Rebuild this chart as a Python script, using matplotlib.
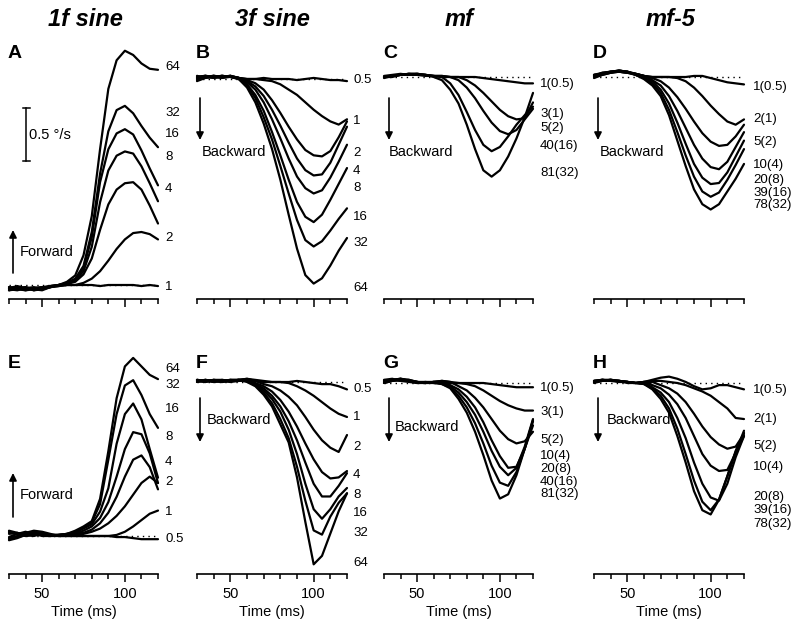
import matplotlib.pyplot as plt

plt.rcParams['font.family'] = ['Liberation Sans', 'DejaVu Sans']

# sample times (ms)
TIME = [30, 35, 40, 45, 50, 55, 60, 65, 70, 75, 80, 85, 90, 95, 100, 105, 110, 115, 120]

# ---- A : 1f sine (top) , velocity in deg/s
a_1 = [-0.03, -0.02, -0.04, -0.03, -0.02, -0.02, -0.01, 0.00, 0.00, 0.00, 0.00, -0.01, 0.00, 0.00, 0.00, 0.00, -0.01, 0.00, -0.01]
a_2 = [-0.05, -0.03, -0.02, -0.05, -0.04, -0.02, -0.01, 0.00, 0.00, 0.02, 0.06, 0.13, 0.23, 0.34, 0.43, 0.49, 0.50, 0.48, 0.43]
a_4 = [-0.02, -0.04, -0.05, -0.03, -0.02, -0.01, 0.00, 0.01, 0.03, 0.10, 0.25, 0.52, 0.76, 0.90, 0.96, 0.97, 0.90, 0.75, 0.58]
a_8 = [-0.04, -0.05, -0.03, -0.02, -0.04, -0.02, 0.00, 0.01, 0.04, 0.13, 0.36, 0.78, 1.08, 1.22, 1.26, 1.24, 1.12, 0.96, 0.79]
a_16 = [-0.03, -0.01, -0.03, -0.05, -0.03, -0.01, 0.00, 0.01, 0.05, 0.16, 0.45, 0.97, 1.28, 1.43, 1.47, 1.42, 1.27, 1.10, 0.94]
a_32 = [-0.05, -0.04, -0.02, -0.04, -0.05, -0.02, 0.00, 0.02, 0.06, 0.18, 0.50, 1.05, 1.45, 1.65, 1.69, 1.62, 1.50, 1.39, 1.30]
a_64 = [-0.02, -0.03, -0.05, -0.04, -0.03, -0.01, 0.00, 0.03, 0.09, 0.28, 0.65, 1.28, 1.85, 2.12, 2.21, 2.17, 2.09, 2.04, 2.03]
A_LABELS = ['1', '2', '4', '8', '16', '32', '64']
A_TRACES = [a_1, a_2, a_4, a_8, a_16, a_32, a_64]
A_TEXT_Y = [-0.02, 0.44, 0.91, 1.21, 1.42, 1.62, 2.06]

# ---- B : 3f sine (top)
b_05 = [0.01, 0.03, 0.02, 0.01, 0.02, 0.01, 0.00, 0.00, 0.01, 0.00, 0.00, 0.00, -0.01, 0.00, 0.01, 0.00, -0.01, -0.01, -0.02]
b_1 = [-0.02, 0.01, 0.03, 0.02, 0.03, 0.01, 0.00, 0.00, -0.01, -0.02, -0.05, -0.10, -0.15, -0.22, -0.29, -0.35, -0.40, -0.43, -0.38]
b_2 = [0.02, 0.03, 0.01, 0.03, 0.02, 0.01, -0.01, -0.04, -0.10, -0.20, -0.32, -0.45, -0.57, -0.67, -0.72, -0.73, -0.68, -0.55, -0.40]
b_4 = [-0.01, 0.02, 0.03, 0.02, 0.03, 0.01, -0.02, -0.07, -0.16, -0.29, -0.44, -0.60, -0.75, -0.86, -0.91, -0.90, -0.79, -0.62, -0.45]
b_8 = [0.03, 0.01, 0.02, 0.03, 0.02, 0.01, -0.03, -0.10, -0.22, -0.38, -0.56, -0.75, -0.92, -1.03, -1.08, -1.05, -0.93, -0.78, -0.62]
b_16 = [0.00, 0.02, 0.03, 0.01, 0.03, 0.01, -0.05, -0.15, -0.30, -0.50, -0.72, -0.95, -1.16, -1.30, -1.35, -1.28, -1.14, -0.99, -0.84]
b_32 = [0.02, 0.03, 0.02, 0.03, 0.02, 0.00, -0.06, -0.18, -0.36, -0.57, -0.82, -1.08, -1.33, -1.52, -1.58, -1.53, -1.43, -1.32, -1.22]
b_64 = [0.01, 0.02, 0.01, 0.02, 0.02, 0.00, -0.08, -0.22, -0.42, -0.66, -0.95, -1.28, -1.60, -1.85, -1.93, -1.88, -1.76, -1.62, -1.50]
B_LABELS = ['0.5', '1', '2', '4', '8', '16', '32', '64']
B_TRACES = [b_05, b_1, b_2, b_4, b_8, b_16, b_32, b_64]
B_TEXT_Y = [-0.01, -0.40, -0.70, -0.87, -1.03, -1.30, -1.55, -1.97]

# ---- C : mf (top)
c_1 = [0.00, 0.01, 0.02, 0.03, 0.03, 0.02, 0.01, 0.01, 0.00, 0.00, 0.00, 0.00, -0.01, -0.02, -0.03, -0.04, -0.05, -0.06, -0.06]
c_3 = [-0.01, 0.01, 0.02, 0.03, 0.02, 0.02, 0.01, 0.01, 0.00, 0.00, -0.03, -0.08, -0.15, -0.23, -0.31, -0.37, -0.40, -0.39, -0.24]
c_5 = [0.00, 0.00, 0.02, 0.02, 0.03, 0.02, 0.01, 0.00, 0.00, -0.03, -0.10, -0.20, -0.32, -0.43, -0.51, -0.54, -0.50, -0.40, -0.30]
c_40 = [0.01, 0.02, 0.03, 0.02, 0.02, 0.01, 0.01, 0.00, -0.06, -0.17, -0.33, -0.50, -0.64, -0.70, -0.66, -0.56, -0.45, -0.36, -0.28]
c_81 = [0.00, 0.01, 0.02, 0.03, 0.03, 0.02, 0.00, -0.03, -0.12, -0.25, -0.45, -0.68, -0.88, -0.94, -0.88, -0.75, -0.58, -0.38, -0.15]
C_LABELS = ['1(0.5)', '3(1)', '5(2)', '40(16)', '81(32)']
C_TRACES = [c_1, c_3, c_5, c_40, c_81]
C_TEXT_Y = [-0.07, -0.35, -0.48, -0.65, -0.91]

# ---- D : mf-5 (top)
d_1 = [0.02, 0.04, 0.05, 0.06, 0.05, 0.03, 0.01, 0.00, 0.00, 0.00, 0.00, 0.00, 0.01, 0.01, -0.01, -0.03, -0.05, -0.06, -0.07]
d_2 = [-0.01, 0.02, 0.04, 0.05, 0.04, 0.03, 0.01, 0.00, 0.00, 0.00, -0.01, -0.04, -0.10, -0.18, -0.27, -0.35, -0.42, -0.45, -0.40]
d_5 = [0.01, 0.03, 0.05, 0.06, 0.05, 0.03, 0.01, -0.01, -0.04, -0.10, -0.19, -0.30, -0.42, -0.53, -0.61, -0.65, -0.64, -0.56, -0.45]
d_10 = [0.00, 0.02, 0.04, 0.05, 0.04, 0.03, 0.01, -0.03, -0.08, -0.18, -0.32, -0.48, -0.64, -0.77, -0.85, -0.87, -0.80, -0.66, -0.52]
d_20 = [0.02, 0.03, 0.05, 0.06, 0.05, 0.02, -0.01, -0.04, -0.12, -0.25, -0.43, -0.63, -0.82, -0.95, -1.01, -1.00, -0.90, -0.75, -0.60]
d_39 = [0.01, 0.04, 0.05, 0.05, 0.04, 0.02, -0.01, -0.06, -0.15, -0.31, -0.52, -0.74, -0.94, -1.08, -1.13, -1.09, -0.97, -0.83, -0.68]
d_78 = [0.02, 0.03, 0.04, 0.06, 0.05, 0.02, -0.02, -0.08, -0.18, -0.36, -0.60, -0.84, -1.06, -1.20, -1.25, -1.20, -1.08, -0.96, -0.82]
D_LABELS = ['1(0.5)', '2(1)', '5(2)', '10(4)', '20(8)', '39(16)', '78(32)']
D_TRACES = [d_1, d_2, d_5, d_10, d_20, d_39, d_78]
D_TEXT_Y = [-0.09, -0.40, -0.61, -0.83, -0.97, -1.09, -1.21]

# ---- E : 1f sine (bottom)
e_05 = [0.03, 0.02, 0.01, 0.03, 0.02, 0.00, 0.00, 0.00, 0.00, 0.00, 0.00, 0.00, 0.00, -0.01, -0.01, -0.02, -0.03, -0.03, -0.03]
e_1 = [-0.02, 0.00, 0.03, 0.05, 0.04, 0.02, 0.00, 0.00, 0.00, 0.00, 0.00, 0.00, 0.00, 0.01, 0.04, 0.09, 0.15, 0.21, 0.24]
e_2 = [0.04, 0.02, 0.00, 0.02, 0.03, 0.01, 0.00, 0.01, 0.01, 0.02, 0.04, 0.07, 0.12, 0.19, 0.28, 0.39, 0.50, 0.56, 0.50]
e_4 = [-0.03, -0.01, 0.02, 0.04, 0.02, 0.01, 0.01, 0.01, 0.02, 0.03, 0.06, 0.12, 0.22, 0.37, 0.56, 0.72, 0.76, 0.65, 0.44]
e_8 = [0.02, 0.03, 0.01, 0.00, 0.02, 0.01, 0.01, 0.01, 0.02, 0.05, 0.09, 0.17, 0.32, 0.56, 0.82, 0.98, 0.96, 0.78, 0.50]
e_16 = [-0.04, -0.02, 0.01, 0.03, 0.01, 0.00, 0.01, 0.02, 0.03, 0.07, 0.11, 0.23, 0.45, 0.87, 1.15, 1.25, 1.10, 0.82, 0.55]
e_32 = [0.05, 0.03, 0.00, 0.01, 0.02, 0.01, 0.01, 0.02, 0.04, 0.08, 0.13, 0.30, 0.72, 1.15, 1.42, 1.47, 1.33, 1.15, 1.02]
e_64 = [-0.01, 0.02, 0.04, 0.02, 0.00, 0.00, 0.01, 0.02, 0.05, 0.09, 0.14, 0.35, 0.80, 1.30, 1.60, 1.68, 1.60, 1.52, 1.48]
E_LABELS = ['0.5', '1', '2', '4', '8', '16', '32', '64']
E_TRACES = [e_05, e_1, e_2, e_4, e_8, e_16, e_32, e_64]
E_TEXT_Y = [-0.03, 0.23, 0.51, 0.70, 0.93, 1.20, 1.42, 1.58]

# ---- F : 3f sine (bottom)
f_05 = [0.02, 0.01, 0.02, 0.01, 0.00, 0.01, 0.02, 0.01, 0.00, 0.00, 0.00, 0.00, 0.01, 0.00, -0.01, -0.02, -0.02, -0.04, -0.07]
f_1 = [0.00, 0.02, 0.01, 0.00, 0.01, 0.02, 0.03, 0.02, 0.01, 0.00, 0.00, -0.01, -0.04, -0.08, -0.13, -0.19, -0.25, -0.30, -0.33]
f_2 = [0.01, 0.00, 0.02, 0.01, 0.02, 0.02, 0.03, 0.01, -0.02, -0.04, -0.08, -0.14, -0.22, -0.33, -0.45, -0.55, -0.62, -0.66, -0.50]
f_4 = [0.02, 0.01, 0.00, 0.02, 0.01, 0.02, 0.02, -0.01, -0.04, -0.09, -0.17, -0.28, -0.42, -0.58, -0.73, -0.85, -0.91, -0.90, -0.84]
f_8 = [0.00, 0.02, 0.01, 0.01, 0.02, 0.01, 0.02, -0.02, -0.06, -0.13, -0.23, -0.37, -0.55, -0.76, -0.96, -1.08, -1.08, -0.98, -0.86]
f_16 = [0.01, 0.00, 0.02, 0.02, 0.01, 0.02, 0.01, -0.02, -0.08, -0.16, -0.28, -0.45, -0.68, -0.96, -1.20, -1.29, -1.20, -1.08, -1.00]
f_32 = [0.02, 0.01, 0.01, 0.00, 0.02, 0.02, 0.01, -0.03, -0.10, -0.20, -0.35, -0.53, -0.80, -1.12, -1.40, -1.44, -1.27, -1.14, -1.05]
f_64 = [0.01, 0.02, 0.00, 0.01, 0.01, 0.02, 0.00, -0.04, -0.12, -0.23, -0.40, -0.57, -0.90, -1.32, -1.72, -1.64, -1.43, -1.22, -1.05]
F_LABELS = ['0.5', '1', '2', '4', '8', '16', '32', '64']
F_TRACES = [f_05, f_1, f_2, f_4, f_8, f_16, f_32, f_64]
F_TEXT_Y = [-0.07, -0.33, -0.61, -0.88, -1.07, -1.24, -1.42, -1.71]

# ---- G : mf (bottom)
g_1 = [0.02, 0.03, 0.04, 0.02, 0.01, 0.01, 0.00, 0.00, 0.00, 0.00, 0.00, 0.00, 0.00, -0.01, -0.02, -0.03, -0.04, -0.04, -0.04]
g_3 = [0.00, 0.02, 0.03, 0.03, 0.01, 0.00, 0.01, 0.02, 0.01, 0.00, -0.01, -0.03, -0.07, -0.12, -0.17, -0.21, -0.24, -0.26, -0.26]
g_5 = [0.03, 0.04, 0.02, 0.01, 0.00, 0.01, 0.01, 0.02, 0.01, -0.03, -0.07, -0.14, -0.23, -0.34, -0.45, -0.53, -0.57, -0.55, -0.46]
g_10 = [0.01, 0.02, 0.04, 0.03, 0.01, 0.00, 0.01, 0.01, -0.02, -0.06, -0.13, -0.23, -0.37, -0.54, -0.69, -0.80, -0.79, -0.62, -0.40]
g_20 = [0.02, 0.03, 0.02, 0.02, 0.01, 0.00, 0.01, 0.01, -0.03, -0.09, -0.18, -0.30, -0.46, -0.64, -0.79, -0.87, -0.80, -0.60, -0.34]
g_40 = [0.00, 0.02, 0.03, 0.02, 0.01, 0.00, 0.01, -0.01, -0.04, -0.12, -0.23, -0.38, -0.57, -0.78, -0.94, -0.97, -0.84, -0.62, -0.36]
g_81 = [0.01, 0.03, 0.04, 0.02, 0.00, 0.00, 0.00, -0.01, -0.05, -0.15, -0.28, -0.46, -0.68, -0.92, -1.09, -1.05, -0.87, -0.62, -0.35]
G_LABELS = ['1(0.5)', '3(1)', '5(2)', '10(4)', '20(8)', '40(16)', '81(32)']
G_TRACES = [g_1, g_3, g_5, g_10, g_20, g_40, g_81]
G_TEXT_Y = [-0.05, -0.27, -0.54, -0.69, -0.81, -0.93, -1.05]

# ---- H : mf-5 (bottom)
h_1 = [0.01, 0.02, 0.03, 0.02, 0.01, 0.00, 0.01, 0.03, 0.05, 0.06, 0.04, 0.01, -0.03, -0.06, -0.05, -0.02, -0.02, -0.04, -0.06]
h_2 = [0.02, 0.03, 0.02, 0.01, 0.01, 0.00, 0.01, 0.02, 0.02, 0.01, 0.00, -0.02, -0.05, -0.08, -0.12, -0.18, -0.24, -0.33, -0.34]
h_5 = [0.00, 0.02, 0.03, 0.02, 0.01, 0.00, 0.01, 0.01, -0.02, -0.05, -0.10, -0.18, -0.29, -0.41, -0.51, -0.58, -0.62, -0.60, -0.48]
h_10 = [0.02, 0.03, 0.02, 0.02, 0.01, 0.00, 0.01, -0.02, -0.05, -0.11, -0.20, -0.33, -0.50, -0.67, -0.78, -0.83, -0.82, -0.66, -0.50]
h_20 = [0.01, 0.02, 0.03, 0.01, 0.01, 0.00, 0.00, -0.04, -0.09, -0.18, -0.33, -0.52, -0.75, -0.95, -1.08, -1.11, -0.95, -0.70, -0.50]
h_39 = [0.02, 0.03, 0.03, 0.02, 0.00, 0.00, -0.01, -0.05, -0.12, -0.24, -0.43, -0.67, -0.92, -1.12, -1.20, -1.10, -0.88, -0.64, -0.47]
h_78 = [0.01, 0.03, 0.02, 0.02, 0.01, 0.00, -0.01, -0.06, -0.15, -0.28, -0.50, -0.75, -1.02, -1.20, -1.24, -1.10, -0.88, -0.65, -0.45]
H_LABELS = ['1(0.5)', '2(1)', '5(2)', '10(4)', '20(8)', '39(16)', '78(32)']
H_TRACES = [h_1, h_2, h_5, h_10, h_20, h_39, h_78]
H_TEXT_Y = [-0.07, -0.34, -0.59, -0.79, -1.08, -1.20, -1.33]

TITLES = ['1f sine', '3f sine', 'mf', 'mf-5']

W, H = 800, 625
PX = 106.0  # pixels per deg/s (0.5 deg/s bar = 53 px)

fig = plt.figure(figsize=(8, 6.25), dpi=100)


def fp(x, y):
    return (x / W, 1 - y / H)


# letter, x0, x1, axis y, zero-line y, labels, traces, label y, label offset, bottom row
panels = [
    ('A', 9, 158, 299, 285, A_LABELS, A_TRACES, A_TEXT_Y, 7, False),
    ('B', 197, 347, 299, 79, B_LABELS, B_TRACES, B_TEXT_Y, 6, False),
    ('C', 384, 533, 299, 77, C_LABELS, C_TRACES, C_TEXT_Y, 7, False),
    ('D', 594, 744, 299, 77, D_LABELS, D_TRACES, D_TEXT_Y, 9, False),
    ('E', 9, 158, 574, 536, E_LABELS, E_TRACES, E_TEXT_Y, 7, True),
    ('F', 197, 347, 574, 382, F_LABELS, F_TRACES, F_TEXT_Y, 6, True),
    ('G', 384, 533, 574, 383, G_LABELS, G_TRACES, G_TEXT_Y, 7, True),
    ('H', 594, 744, 574, 383, H_LABELS, H_TRACES, H_TEXT_Y, 9, True),
]

for letter, x0, x1, ay, by, labels, traces, text_y, off, bottom in panels:
    top = ay - 260
    ax = fig.add_axes([x0 / W, 1 - ay / H, (x1 - x0) / W, (ay - top) / H])
    ax.set_xlim(30, 120)
    ax.set_ylim(-(ay - by) / PX, (by - top) / PX)
    ax.patch.set_alpha(0)
    for s in ['top', 'right', 'left']:
        ax.spines[s].set_visible(False)
    ax.spines['bottom'].set_linewidth(1.2)
    ax.yaxis.set_visible(False)
    ax.set_xticks([50, 100])
    ax.set_xticks(range(30, 121, 10), minor=True)
    ax.tick_params(axis='x', which='major', length=6, width=1.1, direction='out')
    ax.tick_params(axis='x', which='minor', length=3.5, width=1.1, direction='out')
    if bottom:
        ax.set_xticklabels(['50', '100'], fontsize=10.5)
        ax.set_xlabel('Time (ms)', fontsize=10.5, labelpad=3)
    else:
        ax.tick_params(axis='x', labelbottom=False)

    ax.plot([30, 120], [0, 0], ls=(0, (1, 3)), lw=1.0, color='k')
    for tr in traces:
        ax.plot(TIME, tr, color='k', lw=1.6, clip_on=False,
                solid_capstyle='round', solid_joinstyle='round')
    for lbl, yv in zip(labels, text_y):
        ax.annotate(lbl, xy=(120, yv), xytext=(off, 0), textcoords='offset pixels',
                    ha='left', va='center', fontsize=9.5, annotation_clip=False)

    ly = 54 if not bottom else 364
    fig.text(*fp(x0 - 1, ly), letter, fontsize=14, fontweight='bold', ha='left', va='center')

# column titles
for title, cx in zip(TITLES, [85, 272, 459, 671]):
    fig.text(*fp(cx, 20), title, fontsize=17, fontweight='bold', fontstyle='italic',
             ha='center', va='center')

# direction arrows
arrow = dict(arrowstyle='-|>', lw=1.2, color='k', mutation_scale=11, shrinkA=0, shrinkB=0)
for (x, ys, ye, tx, tyy, txt) in [
        (13, 273, 230, 20, 252, 'Forward'),
        (13, 517, 473, 20, 495, 'Forward'),
        (200, 98, 140, 202, 152, 'Backward'),
        (389, 98, 140, 389, 152, 'Backward'),
        (598, 98, 140, 600, 152, 'Backward'),
        (200, 398, 442, 207, 420, 'Backward'),
        (389, 398, 442, 395, 427, 'Backward'),
        (598, 398, 442, 607, 420, 'Backward')]:
    fig.add_artist(plt.matplotlib.patches.FancyArrowPatch(
        fp(x, ys), fp(x, ye), transform=fig.transFigure, **arrow))
    fig.text(*fp(tx, tyy), txt, fontsize=10.5, ha='left', va='center')

# scale bar in A
fig.add_artist(plt.Line2D([26 / W, 26 / W], [1 - 108 / H, 1 - 161 / H], color='k', lw=1.1))
for yy in (108, 161):
    fig.add_artist(plt.Line2D([22.5 / W, 29.5 / W], [1 - yy / H, 1 - yy / H], color='k', lw=1.1))
fig.text(*fp(29, 135), '0.5 °/s', fontsize=10.5, ha='left', va='center')

fig.savefig('out.png', dpi=100)
